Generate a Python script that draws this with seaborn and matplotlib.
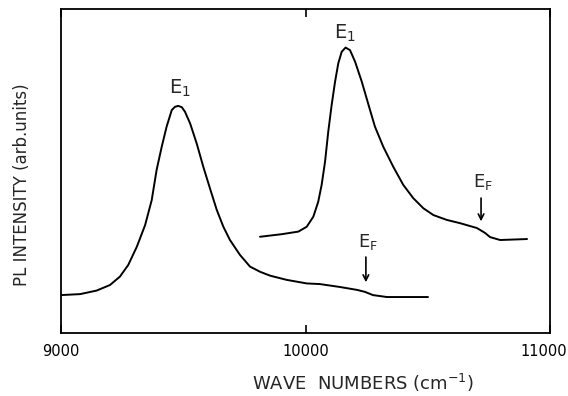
import matplotlib
matplotlib.use("Agg")
import matplotlib.pyplot as plt
import matplotlib.transforms as mtransforms
import seaborn as sns
import pandas as pd

# Lower spectrum (wavenumber in cm^-1, intensity in arb. units)
low_wn = [9000, 9078, 9146, 9200, 9241, 9275, 9310, 9344, 9371, 9391, 9412,
          9432, 9453, 9466, 9479, 9494, 9507, 9528, 9555, 9582, 9609, 9637,
          9664, 9691, 9732, 9773, 9814, 9855, 9923, 10005, 10059, 10141,
          10211, 10243, 10276, 10333, 10501]
low_int = [1.17, 1.20, 1.31, 1.48, 1.74, 2.10, 2.66, 3.33, 4.10, 5.03, 5.75,
           6.37, 6.88, 6.98, 7.01, 6.97, 6.83, 6.47, 5.85, 5.13, 4.47, 3.80,
           3.28, 2.87, 2.41, 2.05, 1.89, 1.77, 1.64, 1.53, 1.51, 1.42,
           1.33, 1.27, 1.17, 1.11, 1.11]

# Upper spectrum
up_wn = [9814, 9903, 9971, 10005, 10032, 10052, 10066, 10080, 10093, 10107,
         10121, 10134, 10148, 10164, 10182, 10203, 10230, 10264, 10284, 10318,
         10359, 10400, 10441, 10482, 10523, 10578, 10632, 10701, 10734, 10755,
         10796, 10906]
up_int = [2.97, 3.05, 3.13, 3.28, 3.59, 4.05, 4.57, 5.29, 6.21, 7.04,
          7.76, 8.32, 8.68, 8.81, 8.73, 8.37, 7.76, 6.88, 6.37, 5.75,
          5.13, 4.57, 4.16, 3.85, 3.64, 3.49, 3.39, 3.24, 3.09, 2.96,
          2.87, 2.90]

x_ticks = [9000, 10000, 11000]
x_tick_labels = ["9000", "10000", "11000"]

sns.set_style("white")
plt.rcParams["font.family"] = ["DejaVu Sans"]

fig = plt.figure(figsize=(5.68, 3.96), dpi=100)
ax = fig.add_axes([61/568, 1 - 333/396, 489/568, 324/396])

df_low = pd.DataFrame({"wn": low_wn, "I": low_int})
df_up = pd.DataFrame({"wn": up_wn, "I": up_int})
sns.lineplot(data=df_low, x="wn", y="I", ax=ax, color="black", lw=1.4, sort=False)
sns.lineplot(data=df_up, x="wn", y="I", ax=ax, color="black", lw=1.4, sort=False)
for ln in ax.lines:
    ln.set_solid_joinstyle("round")
    ln.set_solid_capstyle("round")

ax.set_xlim(9000, 11000)
ax.set_ylim(0, 10)
ax.set_xticks(x_ticks)
ax.set_xticklabels(x_tick_labels, fontsize=10.5)
ax.set_yticks([])
ax.tick_params(axis="x", direction="in", length=6, width=1.2, top=True,
               bottom=True, pad=8, colors="black")
for s in ax.spines.values():
    s.set_visible(True)
    s.set_color("black")
    s.set_linewidth(1.3)

# nudge the last tick label inward so it stays inside the figure
last = ax.get_xticklabels()[-1]
last.set_transform(last.get_transform() +
                   mtransforms.ScaledTranslation(-6/100, 0, fig.dpi_scale_trans))

ax.set_xlabel("")
ax.set_ylabel("")
fig.text(363/568, 1 - 383/396, "WAVE  NUMBERS (cm$^{\\mathregular{-1}}$)",
         ha="center", va="center", fontsize=13)
fig.text(22/568, 1 - 185/396, "PL INTENSITY (arb.units)", rotation=90,
         ha="center", va="center", fontsize=12)

# Annotations
ax.text(9487, 7.55, "$\\mathregular{E_1}$", ha="center", va="center", fontsize=14)
ax.text(10162, 9.25, "$\\mathregular{E_1}$", ha="center", va="center", fontsize=14)
ax.text(10726, 4.65, "$\\mathregular{E_F}$", ha="center", va="center", fontsize=13)
ax.text(10254, 2.80, "$\\mathregular{E_F}$", ha="center", va="center", fontsize=13)
ax.annotate("", xy=(10718, 3.36), xytext=(10718, 4.25),
            arrowprops=dict(arrowstyle="->", color="black", lw=1.2))
ax.annotate("", xy=(10247, 1.48), xytext=(10247, 2.43),
            arrowprops=dict(arrowstyle="->", color="black", lw=1.2))

fig.savefig("out.png", dpi=100)
